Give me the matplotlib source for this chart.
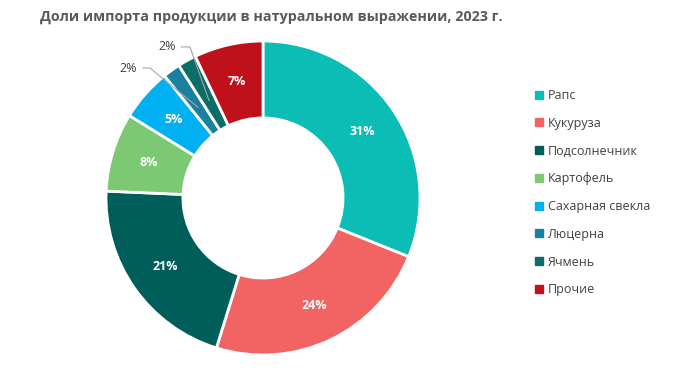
import matplotlib
matplotlib.use("Agg")
import matplotlib.pyplot as plt
from matplotlib.lines import Line2D
import numpy as np

plt.rcParams['font.family'] = ['Open Sans', 'DejaVu Sans']

categories = ["Рапс", "Кукуруза", "Подсолнечник", "Картофель",
              "Сахарная свекла", "Люцерна", "Ячмень", "Прочие"]
values = [31.1, 23.7, 20.9, 8.1, 5.4, 1.8, 1.9, 7.1]
labels = ["31%", "24%", "21%", "8%", "5%", "2%", "2%", "7%"]
colors = ["#0BBDB4", "#F26464", "#005E5A", "#7DC873",
          "#00B0F0", "#1A80A0", "#0B6E66", "#C0111A"]
title = "Доли импорта продукции в натуральном выражении, 2023 г."

W, H = 695, 378
fig = plt.figure(figsize=(W / 100, H / 100), dpi=100)
cx, cy, R = 263, 198, 157
ax = fig.add_axes([(cx - R) / W, (H - cy - R) / H, 2 * R / W, 2 * R / H])

wedges, _ = ax.pie(values, colors=colors, startangle=90, counterclock=False,
                   radius=1.0, wedgeprops=dict(width=0.49, edgecolor="white", linewidth=2))
ax.set_xlim(-1, 1)
ax.set_ylim(-1, 1)
ax.set_aspect("equal")
ax.axis("off")

rmid = 0.76
for w, lab in zip(wedges, labels):
    if lab == "2%":
        continue
    ang = np.deg2rad((w.theta1 + w.theta2) / 2)
    x, y = rmid * np.cos(ang), rmid * np.sin(ang)
    ax.text(x, y, lab, ha="center", va="center", color="white",
            fontsize=9, fontweight="bold")

# outside labels for small slices (Люцерна, Ячмень) with leader lines
small = [(5, -0.80, 0.828, -0.72), (6, -0.555, 0.962, -0.465)]
for idx, tx, ty, kx in small:
    w = wedges[idx]
    ang = np.deg2rad((w.theta1 + w.theta2) / 2)
    px, py = 0.71 * np.cos(ang), 0.71 * np.sin(ang)
    ax.text(tx, ty, labels[idx], ha="right", va="center", fontsize=9,
            color="#404040", clip_on=False)
    ax.plot([tx + 0.035, kx, px], [ty, ty, py], color="#A6A6A6", lw=0.8,
            clip_on=False, zorder=5)

handles = [Line2D([0], [0], marker="s", linestyle="none", markersize=5.5,
                  markerfacecolor=c, markeredgecolor=c) for c in colors]
fig.legend(handles, categories, loc="upper left", bbox_to_anchor=(530 / W, 1 - 84 / H),
           frameon=False, fontsize=9, labelcolor="#404040", handlelength=0.6,
           handletextpad=0.4, labelspacing=1.18, borderaxespad=0)

fig.text(271 / W, 1 - 17 / H, title, ha="center", va="center",
         fontsize=10.3, fontweight="bold", color="#595959")

fig.savefig("out.png", dpi=100)
